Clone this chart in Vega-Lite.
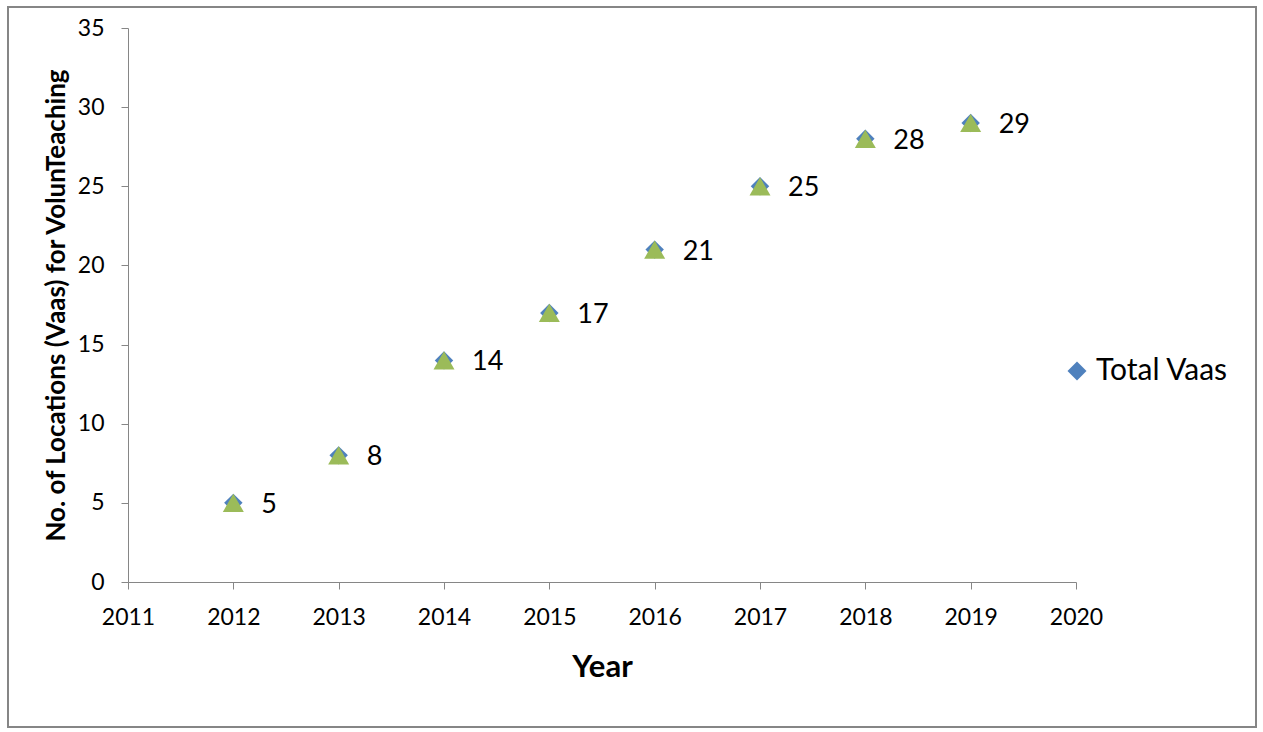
{
  "$schema": "https://vega.github.io/schema/vega-lite/v6.json",
  "autosize": "none",
  "width": 948,
  "height": 554,
  "padding": {"left": 128, "top": 28, "right": 187, "bottom": 150},
  "background": "white",
  "config": {
    "view": {"stroke": null},
    "font": "Lato",
    "axis": {"grid": false, "labelFlush": false, "labelOverlap": false, "domainColor": "#868686", "tickColor": "#868686", "tickSize": 7, "labelColor": "#000000", "labelFontSize": 23, "titleColor": "#000000", "labelFont": "Lato", "titleFont": "Lato"}
  },
  "data": {"values": [
    {"year": 2012, "vaas": 5, "series": "Total Vaas"},
    {"year": 2013, "vaas": 8, "series": "Total Vaas"},
    {"year": 2014, "vaas": 14, "series": "Total Vaas"},
    {"year": 2015, "vaas": 17, "series": "Total Vaas"},
    {"year": 2016, "vaas": 21, "series": "Total Vaas"},
    {"year": 2017, "vaas": 25, "series": "Total Vaas"},
    {"year": 2018, "vaas": 28, "series": "Total Vaas"},
    {"year": 2019, "vaas": 29, "series": "Total Vaas"}
  ]},
  "layer": [
    {
      "mark": {"type": "rect", "fill": null, "stroke": "#868686", "strokeWidth": 1.5, "clip": false},
      "encoding": {
        "x": {"datum": 2009.861, "type": "quantitative", "scale": {"domain": [2011, 2020], "nice": false, "zero": false}},
        "x2": {"datum": 2021.709},
        "y": {"datum": 36.33, "type": "quantitative", "scale": {"domain": [0, 35], "nice": false}},
        "y2": {"datum": -9.16}
      }
    },
    {
      "mark": {"type": "point", "shape": "diamond", "filled": true, "size": 340, "opacity": 1},
      "encoding": {
        "x": {"field": "year", "type": "quantitative", "scale": {"domain": [2011, 2020], "nice": false, "zero": false},
          "axis": {"values": [2011, 2012, 2013, 2014, 2015, 2016, 2017, 2018, 2019, 2020], "format": "d", "labelPadding": 17, "title": "Year", "titleFontSize": 31, "titleFontWeight": "bold", "titlePadding": 23}},
        "y": {"field": "vaas", "type": "quantitative", "scale": {"domain": [0, 35], "nice": false},
          "axis": {"values": [0, 5, 10, 15, 20, 25, 30, 35], "labelPadding": 17, "title": "No. of Locations (Vaas) for VolunTeaching", "titleFontSize": 26, "titleFontWeight": "bold", "titlePadding": 8}},
        "color": {"field": "series", "type": "nominal", "scale": {"range": ["#4F81BD"]},
          "legend": {"title": null, "orient": "none", "legendX": 934, "legendY": 328, "symbolType": "diamond", "symbolSize": 360, "labelFontSize": 30, "labelFont": "Lato", "labelColor": "#000000", "symbolOpacity": 1, "labelOffset": 4}}
      }
    },
    {
      "mark": {"type": "point", "shape": "triangle-up", "filled": true, "size": 441, "color": "#9BBB59", "opacity": 1},
      "encoding": {
        "x": {"field": "year", "type": "quantitative"},
        "y": {"field": "vaas", "type": "quantitative"}
      }
    },
    {
      "mark": {"type": "text", "align": "left", "baseline": "middle", "dx": 28, "dy": 2, "fontSize": 27, "font": "Lato", "color": "#000000"},
      "encoding": {
        "x": {"field": "year", "type": "quantitative"},
        "y": {"field": "vaas", "type": "quantitative"},
        "text": {"field": "vaas", "type": "quantitative"}
      }
    }
  ]
}
